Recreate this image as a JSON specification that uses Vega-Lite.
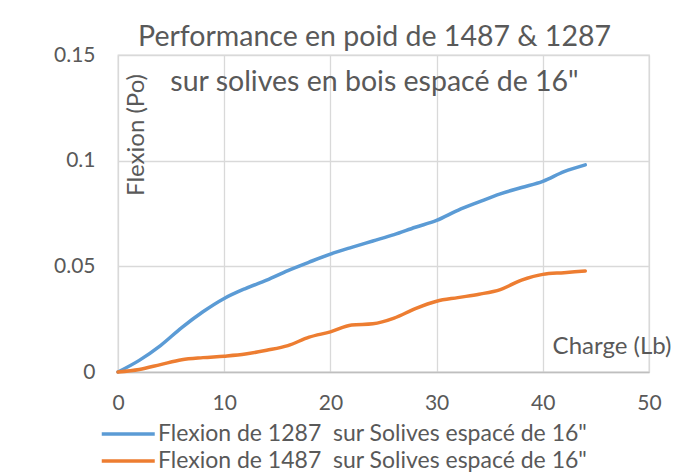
{
  "$schema": "https://vega.github.io/schema/vega-lite/v6.json",
  "width": 531,
  "height": 317,
  "autosize": {"type": "none"},
  "padding": {"left": 118, "top": 55, "right": 26, "bottom": 101},
  "background": "white",
  "title": {
    "text": ["Performance en poid de 1487 & 1287", "sur solives en bois espacé de 16\""],
    "font": "Lato",
    "fontSize": 28.5,
    "fontWeight": "normal",
    "color": "#595959",
    "lineHeight": 45,
    "anchor": "middle",
    "dx": -9,
    "offset": -52
  },
  "data": {
    "values": [
      {"charge": 0, "flexion": 0, "serie": "Flexion de 1287\u00a0 sur Solives espacé de 16\""},
      {"charge": 2, "flexion": 0.0055, "serie": "Flexion de 1287\u00a0 sur Solives espacé de 16\""},
      {"charge": 4, "flexion": 0.0125, "serie": "Flexion de 1287\u00a0 sur Solives espacé de 16\""},
      {"charge": 6, "flexion": 0.021, "serie": "Flexion de 1287\u00a0 sur Solives espacé de 16\""},
      {"charge": 8, "flexion": 0.0285, "serie": "Flexion de 1287\u00a0 sur Solives espacé de 16\""},
      {"charge": 10, "flexion": 0.0348, "serie": "Flexion de 1287\u00a0 sur Solives espacé de 16\""},
      {"charge": 12, "flexion": 0.0395, "serie": "Flexion de 1287\u00a0 sur Solives espacé de 16\""},
      {"charge": 14, "flexion": 0.0435, "serie": "Flexion de 1287\u00a0 sur Solives espacé de 16\""},
      {"charge": 16, "flexion": 0.048, "serie": "Flexion de 1287\u00a0 sur Solives espacé de 16\""},
      {"charge": 18, "flexion": 0.052, "serie": "Flexion de 1287\u00a0 sur Solives espacé de 16\""},
      {"charge": 20, "flexion": 0.0558, "serie": "Flexion de 1287\u00a0 sur Solives espacé de 16\""},
      {"charge": 22, "flexion": 0.059, "serie": "Flexion de 1287\u00a0 sur Solives espacé de 16\""},
      {"charge": 24, "flexion": 0.062, "serie": "Flexion de 1287\u00a0 sur Solives espacé de 16\""},
      {"charge": 26, "flexion": 0.065, "serie": "Flexion de 1287\u00a0 sur Solives espacé de 16\""},
      {"charge": 28, "flexion": 0.0685, "serie": "Flexion de 1287\u00a0 sur Solives espacé de 16\""},
      {"charge": 30, "flexion": 0.0717, "serie": "Flexion de 1287\u00a0 sur Solives espacé de 16\""},
      {"charge": 32, "flexion": 0.0765, "serie": "Flexion de 1287\u00a0 sur Solives espacé de 16\""},
      {"charge": 34, "flexion": 0.0805, "serie": "Flexion de 1287\u00a0 sur Solives espacé de 16\""},
      {"charge": 36, "flexion": 0.0843, "serie": "Flexion de 1287\u00a0 sur Solives espacé de 16\""},
      {"charge": 38, "flexion": 0.0873, "serie": "Flexion de 1287\u00a0 sur Solives espacé de 16\""},
      {"charge": 40, "flexion": 0.0902, "serie": "Flexion de 1287\u00a0 sur Solives espacé de 16\""},
      {"charge": 42, "flexion": 0.0948, "serie": "Flexion de 1287\u00a0 sur Solives espacé de 16\""},
      {"charge": 44, "flexion": 0.098, "serie": "Flexion de 1287\u00a0 sur Solives espacé de 16\""},
      {"charge": 0, "flexion": 0, "serie": "Flexion de 1487\u00a0 sur Solives espacé de 16\""},
      {"charge": 2, "flexion": 0.0012, "serie": "Flexion de 1487\u00a0 sur Solives espacé de 16\""},
      {"charge": 4, "flexion": 0.0035, "serie": "Flexion de 1487\u00a0 sur Solives espacé de 16\""},
      {"charge": 6, "flexion": 0.0058, "serie": "Flexion de 1487\u00a0 sur Solives espacé de 16\""},
      {"charge": 8, "flexion": 0.0068, "serie": "Flexion de 1487\u00a0 sur Solives espacé de 16\""},
      {"charge": 10, "flexion": 0.0075, "serie": "Flexion de 1487\u00a0 sur Solives espacé de 16\""},
      {"charge": 12, "flexion": 0.0085, "serie": "Flexion de 1487\u00a0 sur Solives espacé de 16\""},
      {"charge": 14, "flexion": 0.0103, "serie": "Flexion de 1487\u00a0 sur Solives espacé de 16\""},
      {"charge": 16, "flexion": 0.0125, "serie": "Flexion de 1487\u00a0 sur Solives espacé de 16\""},
      {"charge": 18, "flexion": 0.0165, "serie": "Flexion de 1487\u00a0 sur Solives espacé de 16\""},
      {"charge": 20, "flexion": 0.019, "serie": "Flexion de 1487\u00a0 sur Solives espacé de 16\""},
      {"charge": 22, "flexion": 0.0222, "serie": "Flexion de 1487\u00a0 sur Solives espacé de 16\""},
      {"charge": 24, "flexion": 0.0228, "serie": "Flexion de 1487\u00a0 sur Solives espacé de 16\""},
      {"charge": 26, "flexion": 0.0255, "serie": "Flexion de 1487\u00a0 sur Solives espacé de 16\""},
      {"charge": 28, "flexion": 0.03, "serie": "Flexion de 1487\u00a0 sur Solives espacé de 16\""},
      {"charge": 30, "flexion": 0.0335, "serie": "Flexion de 1487\u00a0 sur Solives espacé de 16\""},
      {"charge": 32, "flexion": 0.0352, "serie": "Flexion de 1487\u00a0 sur Solives espacé de 16\""},
      {"charge": 34, "flexion": 0.0368, "serie": "Flexion de 1487\u00a0 sur Solives espacé de 16\""},
      {"charge": 36, "flexion": 0.039, "serie": "Flexion de 1487\u00a0 sur Solives espacé de 16\""},
      {"charge": 38, "flexion": 0.0435, "serie": "Flexion de 1487\u00a0 sur Solives espacé de 16\""},
      {"charge": 40, "flexion": 0.0462, "serie": "Flexion de 1487\u00a0 sur Solives espacé de 16\""},
      {"charge": 42, "flexion": 0.047, "serie": "Flexion de 1487\u00a0 sur Solives espacé de 16\""},
      {"charge": 44, "flexion": 0.0478, "serie": "Flexion de 1487\u00a0 sur Solives espacé de 16\""}
    ]
  },
  "mark": {"type": "line", "interpolate": "monotone", "strokeWidth": 3.5, "strokeCap": "round"},
  "encoding": {
    "x": {
      "field": "charge",
      "type": "quantitative",
      "scale": {"domain": [0, 50], "nice": false},
      "axis": {
        "values": [0, 10, 20, 30, 40, 50],
        "title": "Charge (Lb)",
        "titleFont": "Lato",
        "titleFontSize": 24,
        "titleFontWeight": "normal",
        "titleColor": "#595959",
        "titleX": 493.5,
        "titleY": -19,
        "titleAlign": "center",
        "titleBaseline": "alphabetic",
        "labelFont": "Lato",
        "labelFontSize": 21,
        "labelColor": "#595959",
        "labelPadding": 20,
        "labelFlush": false,
        "labelOverlap": false,
        "ticks": false,
        "domainColor": "#bfbfbf",
        "domainWidth": 1.5,
        "gridColor": "#d9d9d9",
        "gridWidth": 1.3
      }
    },
    "y": {
      "field": "flexion",
      "type": "quantitative",
      "scale": {"domain": [0, 0.15], "nice": false},
      "axis": {
        "values": [0, 0.05, 0.1, 0.15],
        "labelExpr": "datum.value",
        "title": "Flexion (Po)",
        "titleFont": "Lato",
        "titleFontSize": 24,
        "titleFontWeight": "normal",
        "titleColor": "#595959",
        "titleAngle": -90,
        "titleX": 25,
        "titleY": 79.5,
        "titleAlign": "center",
        "titleBaseline": "alphabetic",
        "labelFont": "Lato",
        "labelFontSize": 21,
        "labelColor": "#595959",
        "labelPadding": 23,
        "labelFlush": false,
        "labelOverlap": false,
        "ticks": false,
        "domain": false,
        "gridColor": "#d9d9d9",
        "gridWidth": 1.3
      }
    },
    "color": {
      "field": "serie",
      "type": "nominal",
      "scale": {
        "domain": ["Flexion de 1287\u00a0 sur Solives espacé de 16\"", "Flexion de 1487\u00a0 sur Solives espacé de 16\""],
        "range": ["#5B9BD5", "#ED7D31"]
      },
      "legend": {
        "title": null,
        "orient": "none",
        "legendX": -18,
        "legendY": 364,
        "direction": "vertical",
        "symbolType": "M-1,0H3",
        "symbolSize": 702.25,
        "symbolStrokeWidth": 3.5,
        "labelFont": "Lato",
        "labelFontSize": 23,
        "labelColor": "#595959",
        "labelOffset": 28,
        "rowPadding": 0,
        "labelLimit": 600
      }
    }
  },
  "config": {
    "view": {"stroke": "#d9d9d9", "strokeWidth": 1.3}
  }
}
